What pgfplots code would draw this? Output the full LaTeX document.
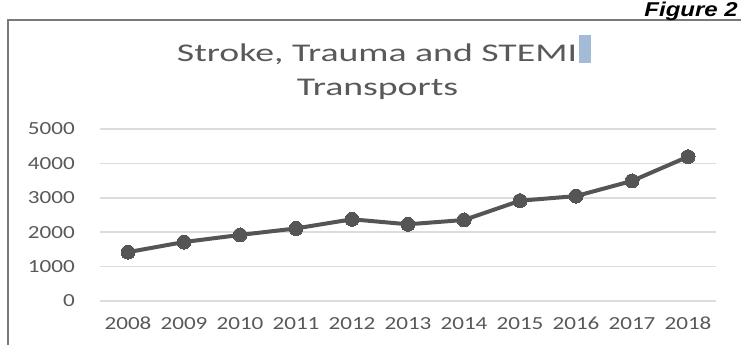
\documentclass[border=0pt]{standalone}
\usepackage{pgfplots}
\pgfplotsset{compat=1.18}
\usepackage{fontspec}
\setmainfont{Carlito}
\newfontfamily\titlefont[FakeStretch=1.48]{Carlito}
\newfontfamily\tickfont[FakeStretch=1.25]{Carlito}
\newfontfamily\figfont[FakeStretch=1.2]{Liberation Sans}
\definecolor{txtgray}{HTML}{595959}
\definecolor{linegray}{HTML}{555555}
\definecolor{gridgray}{HTML}{DCDCDC}
\definecolor{framegray}{HTML}{7A7A7A}
\definecolor{cursorblue}{HTML}{A3BBD6}
\begin{document}
\begin{tikzpicture}
\path[use as bounding box] (0,0) rectangle (741bp,345bp);
\draw[framegray, line width=2.5bp] (8bp,-5bp) -- (8bp,325bp) -- (760bp,325bp);
\node[anchor=base, text=txtgray, inner sep=0, font=\titlefont\fontsize{25.5bp}{30bp}\selectfont] (t1) at (377bp,283.5bp) {Stroke, Trauma and STEMI};
\node[anchor=base, text=txtgray, inner sep=0, font=\titlefont\fontsize{25.5bp}{30bp}\selectfont] at (377.5bp,249bp) {Transports};
\fill[cursorblue] ([xshift=2bp,yshift=-1.5bp]t1.base east) rectangle ([xshift=14bp,yshift=26.5bp]t1.base east);
\node[anchor=base east, inner sep=0, font=\figfont\bfseries\itshape\fontsize{20bp}{24bp}\selectfont] at (738bp,328bp) {Figure 2};
\begin{axis}[
  at={(100bp,44bp)}, anchor=south west,
  width=616bp, height=172bp, scale only axis,
  xmin=-0.5, xmax=10.5, ymin=0, ymax=5000,
  clip=false,
  axis line style={draw=none},
  major tick length=0pt,
  ymajorgrids,
  grid style={gridgray, line width=1.6bp},
  xtick={0,1,2,3,4,5,6,7,8,9,10},
  xticklabels={2008,2009,2010,2011,2012,2013,2014,2015,2016,2017,2018},
  ytick={0,1000,2000,3000,4000,5000},
  yticklabels={0,1000,2000,3000,4000,5000},
  tick label style={font=\tickfont\fontsize{18.5bp}{22bp}\selectfont, text=txtgray},
  yticklabel style={anchor=east, inner sep=0pt, xshift=-25bp},
  xticklabel style={anchor=north, inner sep=0pt, yshift=-16bp},
]
\addplot[linegray, line width=4bp, mark=*, mark size=7bp,
  mark options={fill=linegray, draw=linegray, line width=0pt}]
  coordinates {(0,1420) (1,1715) (2,1920) (3,2110) (4,2375) (5,2230) (6,2355) (7,2915) (8,3050) (9,3490) (10,4195)};
\end{axis}
\end{tikzpicture}
\end{document}
